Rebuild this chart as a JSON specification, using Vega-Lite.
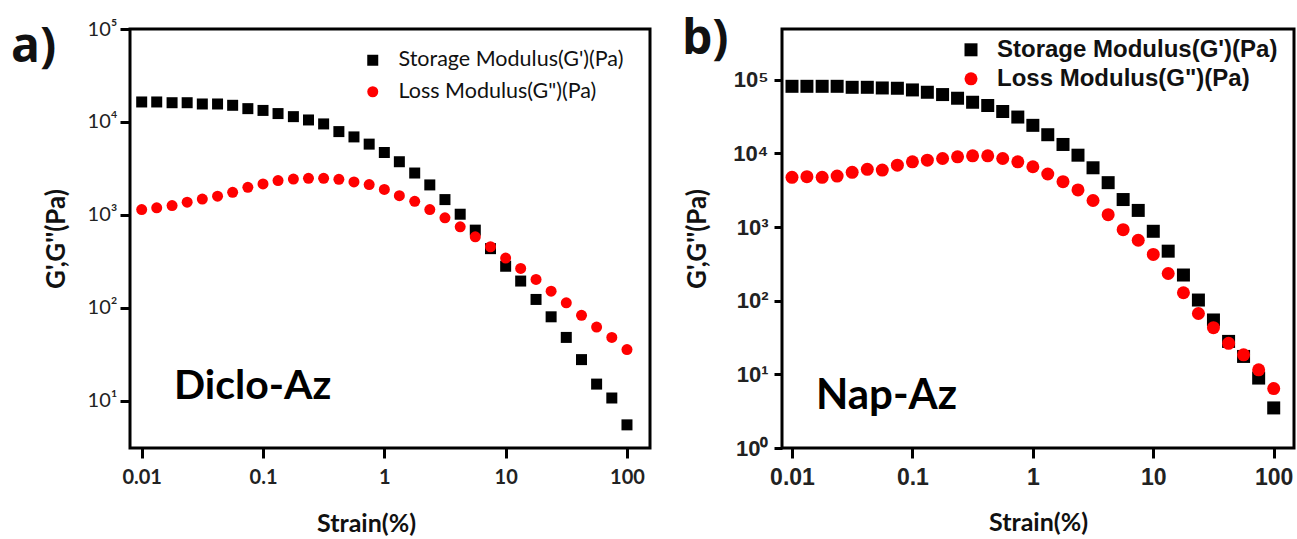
{
  "$schema": "https://vega.github.io/schema/vega-lite/v6.json",
  "padding": {"left": 9, "top": 14, "right": 4, "bottom": 4},
  "spacing": 28,
  "datasets": {
    "diclo": [
      {"strain": 0.01, "value": 16400, "series": "Storage Modulus(G')(Pa)"},
      {"strain": 0.0133, "value": 16400, "series": "Storage Modulus(G')(Pa)"},
      {"strain": 0.0178, "value": 16100, "series": "Storage Modulus(G')(Pa)"},
      {"strain": 0.0237, "value": 16100, "series": "Storage Modulus(G')(Pa)"},
      {"strain": 0.0316, "value": 15600, "series": "Storage Modulus(G')(Pa)"},
      {"strain": 0.0422, "value": 15600, "series": "Storage Modulus(G')(Pa)"},
      {"strain": 0.0562, "value": 15100, "series": "Storage Modulus(G')(Pa)"},
      {"strain": 0.075, "value": 13900, "series": "Storage Modulus(G')(Pa)"},
      {"strain": 0.1, "value": 13300, "series": "Storage Modulus(G')(Pa)"},
      {"strain": 0.133, "value": 12300, "series": "Storage Modulus(G')(Pa)"},
      {"strain": 0.178, "value": 11400, "series": "Storage Modulus(G')(Pa)"},
      {"strain": 0.237, "value": 10500, "series": "Storage Modulus(G')(Pa)"},
      {"strain": 0.316, "value": 9520, "series": "Storage Modulus(G')(Pa)"},
      {"strain": 0.422, "value": 7870, "series": "Storage Modulus(G')(Pa)"},
      {"strain": 0.562, "value": 6900, "series": "Storage Modulus(G')(Pa)"},
      {"strain": 0.75, "value": 5770, "series": "Storage Modulus(G')(Pa)"},
      {"strain": 1, "value": 4690, "series": "Storage Modulus(G')(Pa)"},
      {"strain": 1.33, "value": 3730, "series": "Storage Modulus(G')(Pa)"},
      {"strain": 1.78, "value": 2820, "series": "Storage Modulus(G')(Pa)"},
      {"strain": 2.37, "value": 2100, "series": "Storage Modulus(G')(Pa)"},
      {"strain": 3.16, "value": 1460, "series": "Storage Modulus(G')(Pa)"},
      {"strain": 4.22, "value": 1016, "series": "Storage Modulus(G')(Pa)"},
      {"strain": 5.62, "value": 685, "series": "Storage Modulus(G')(Pa)"},
      {"strain": 7.5, "value": 433, "series": "Storage Modulus(G')(Pa)"},
      {"strain": 10, "value": 280, "series": "Storage Modulus(G')(Pa)"},
      {"strain": 13.3, "value": 194, "series": "Storage Modulus(G')(Pa)"},
      {"strain": 17.8, "value": 123, "series": "Storage Modulus(G')(Pa)"},
      {"strain": 23.7, "value": 80, "series": "Storage Modulus(G')(Pa)"},
      {"strain": 31.6, "value": 48, "series": "Storage Modulus(G')(Pa)"},
      {"strain": 42.2, "value": 27.7, "series": "Storage Modulus(G')(Pa)"},
      {"strain": 56.2, "value": 15.1, "series": "Storage Modulus(G')(Pa)"},
      {"strain": 75, "value": 10.7, "series": "Storage Modulus(G')(Pa)"},
      {"strain": 100, "value": 5.5, "series": "Storage Modulus(G')(Pa)"},
      {"strain": 0.01, "value": 1140, "series": "Loss Modulus(G\")(Pa)"},
      {"strain": 0.0133, "value": 1190, "series": "Loss Modulus(G\")(Pa)"},
      {"strain": 0.0178, "value": 1260, "series": "Loss Modulus(G\")(Pa)"},
      {"strain": 0.0237, "value": 1370, "series": "Loss Modulus(G\")(Pa)"},
      {"strain": 0.0316, "value": 1480, "series": "Loss Modulus(G\")(Pa)"},
      {"strain": 0.0422, "value": 1590, "series": "Loss Modulus(G\")(Pa)"},
      {"strain": 0.0562, "value": 1750, "series": "Loss Modulus(G\")(Pa)"},
      {"strain": 0.075, "value": 1980, "series": "Loss Modulus(G\")(Pa)"},
      {"strain": 0.1, "value": 2150, "series": "Loss Modulus(G\")(Pa)"},
      {"strain": 0.133, "value": 2340, "series": "Loss Modulus(G\")(Pa)"},
      {"strain": 0.178, "value": 2430, "series": "Loss Modulus(G\")(Pa)"},
      {"strain": 0.237, "value": 2470, "series": "Loss Modulus(G\")(Pa)"},
      {"strain": 0.316, "value": 2470, "series": "Loss Modulus(G\")(Pa)"},
      {"strain": 0.422, "value": 2410, "series": "Loss Modulus(G\")(Pa)"},
      {"strain": 0.562, "value": 2260, "series": "Loss Modulus(G\")(Pa)"},
      {"strain": 0.75, "value": 2120, "series": "Loss Modulus(G\")(Pa)"},
      {"strain": 1, "value": 1880, "series": "Loss Modulus(G\")(Pa)"},
      {"strain": 1.33, "value": 1610, "series": "Loss Modulus(G\")(Pa)"},
      {"strain": 1.78, "value": 1400, "series": "Loss Modulus(G\")(Pa)"},
      {"strain": 2.37, "value": 1140, "series": "Loss Modulus(G\")(Pa)"},
      {"strain": 3.16, "value": 930, "series": "Loss Modulus(G\")(Pa)"},
      {"strain": 4.22, "value": 744, "series": "Loss Modulus(G\")(Pa)"},
      {"strain": 5.62, "value": 581, "series": "Loss Modulus(G\")(Pa)"},
      {"strain": 7.5, "value": 454, "series": "Loss Modulus(G\")(Pa)"},
      {"strain": 10, "value": 343, "series": "Loss Modulus(G\")(Pa)"},
      {"strain": 13.3, "value": 265, "series": "Loss Modulus(G\")(Pa)"},
      {"strain": 17.8, "value": 202, "series": "Loss Modulus(G\")(Pa)"},
      {"strain": 23.7, "value": 151, "series": "Loss Modulus(G\")(Pa)"},
      {"strain": 31.6, "value": 113, "series": "Loss Modulus(G\")(Pa)"},
      {"strain": 42.2, "value": 83, "series": "Loss Modulus(G\")(Pa)"},
      {"strain": 56.2, "value": 62, "series": "Loss Modulus(G\")(Pa)"},
      {"strain": 75, "value": 48, "series": "Loss Modulus(G\")(Pa)"},
      {"strain": 100, "value": 35.5, "series": "Loss Modulus(G\")(Pa)"}
    ],
    "nap": [
      {"strain": 0.01, "value": 81300, "series": "Storage Modulus(G')(Pa)"},
      {"strain": 0.0133, "value": 81300, "series": "Storage Modulus(G')(Pa)"},
      {"strain": 0.0178, "value": 81300, "series": "Storage Modulus(G')(Pa)"},
      {"strain": 0.0237, "value": 81300, "series": "Storage Modulus(G')(Pa)"},
      {"strain": 0.0316, "value": 78800, "series": "Storage Modulus(G')(Pa)"},
      {"strain": 0.0422, "value": 78800, "series": "Storage Modulus(G')(Pa)"},
      {"strain": 0.0562, "value": 77200, "series": "Storage Modulus(G')(Pa)"},
      {"strain": 0.075, "value": 76500, "series": "Storage Modulus(G')(Pa)"},
      {"strain": 0.1, "value": 72600, "series": "Storage Modulus(G')(Pa)"},
      {"strain": 0.133, "value": 67500, "series": "Storage Modulus(G')(Pa)"},
      {"strain": 0.178, "value": 62800, "series": "Storage Modulus(G')(Pa)"},
      {"strain": 0.237, "value": 56000, "series": "Storage Modulus(G')(Pa)"},
      {"strain": 0.316, "value": 49400, "series": "Storage Modulus(G')(Pa)"},
      {"strain": 0.422, "value": 44600, "series": "Storage Modulus(G')(Pa)"},
      {"strain": 0.562, "value": 37000, "series": "Storage Modulus(G')(Pa)"},
      {"strain": 0.75, "value": 31100, "series": "Storage Modulus(G')(Pa)"},
      {"strain": 1, "value": 24000, "series": "Storage Modulus(G')(Pa)"},
      {"strain": 1.33, "value": 17900, "series": "Storage Modulus(G')(Pa)"},
      {"strain": 1.78, "value": 13200, "series": "Storage Modulus(G')(Pa)"},
      {"strain": 2.37, "value": 9440, "series": "Storage Modulus(G')(Pa)"},
      {"strain": 3.16, "value": 6370, "series": "Storage Modulus(G')(Pa)"},
      {"strain": 4.22, "value": 4000, "series": "Storage Modulus(G')(Pa)"},
      {"strain": 5.62, "value": 2360, "series": "Storage Modulus(G')(Pa)"},
      {"strain": 7.5, "value": 1680, "series": "Storage Modulus(G')(Pa)"},
      {"strain": 10, "value": 875, "series": "Storage Modulus(G')(Pa)"},
      {"strain": 13.3, "value": 470, "series": "Storage Modulus(G')(Pa)"},
      {"strain": 17.8, "value": 223, "series": "Storage Modulus(G')(Pa)"},
      {"strain": 23.7, "value": 102, "series": "Storage Modulus(G')(Pa)"},
      {"strain": 31.6, "value": 54.7, "series": "Storage Modulus(G')(Pa)"},
      {"strain": 42.2, "value": 28, "series": "Storage Modulus(G')(Pa)"},
      {"strain": 56.2, "value": 17.5, "series": "Storage Modulus(G')(Pa)"},
      {"strain": 75, "value": 8.9, "series": "Storage Modulus(G')(Pa)"},
      {"strain": 100, "value": 3.5, "series": "Storage Modulus(G')(Pa)"},
      {"strain": 0.01, "value": 4720, "series": "Loss Modulus(G\")(Pa)"},
      {"strain": 0.0133, "value": 4820, "series": "Loss Modulus(G\")(Pa)"},
      {"strain": 0.0178, "value": 4720, "series": "Loss Modulus(G\")(Pa)"},
      {"strain": 0.0237, "value": 4920, "series": "Loss Modulus(G\")(Pa)"},
      {"strain": 0.0316, "value": 5520, "series": "Loss Modulus(G\")(Pa)"},
      {"strain": 0.0422, "value": 6060, "series": "Loss Modulus(G\")(Pa)"},
      {"strain": 0.0562, "value": 5930, "series": "Loss Modulus(G\")(Pa)"},
      {"strain": 0.075, "value": 6920, "series": "Loss Modulus(G\")(Pa)"},
      {"strain": 0.1, "value": 7680, "series": "Loss Modulus(G\")(Pa)"},
      {"strain": 0.133, "value": 8090, "series": "Loss Modulus(G\")(Pa)"},
      {"strain": 0.178, "value": 8510, "series": "Loss Modulus(G\")(Pa)"},
      {"strain": 0.237, "value": 8970, "series": "Loss Modulus(G\")(Pa)"},
      {"strain": 0.316, "value": 9250, "series": "Loss Modulus(G\")(Pa)"},
      {"strain": 0.422, "value": 9250, "series": "Loss Modulus(G\")(Pa)"},
      {"strain": 0.562, "value": 8510, "series": "Loss Modulus(G\")(Pa)"},
      {"strain": 0.75, "value": 7680, "series": "Loss Modulus(G\")(Pa)"},
      {"strain": 1, "value": 6580, "series": "Loss Modulus(G\")(Pa)"},
      {"strain": 1.33, "value": 5240, "series": "Loss Modulus(G\")(Pa)"},
      {"strain": 1.78, "value": 4130, "series": "Loss Modulus(G\")(Pa)"},
      {"strain": 2.37, "value": 3190, "series": "Loss Modulus(G\")(Pa)"},
      {"strain": 3.16, "value": 2290, "series": "Loss Modulus(G\")(Pa)"},
      {"strain": 4.22, "value": 1470, "series": "Loss Modulus(G\")(Pa)"},
      {"strain": 5.62, "value": 920, "series": "Loss Modulus(G\")(Pa)"},
      {"strain": 7.5, "value": 661, "series": "Loss Modulus(G\")(Pa)"},
      {"strain": 10, "value": 424, "series": "Loss Modulus(G\")(Pa)"},
      {"strain": 13.3, "value": 234, "series": "Loss Modulus(G\")(Pa)"},
      {"strain": 17.8, "value": 128, "series": "Loss Modulus(G\")(Pa)"},
      {"strain": 23.7, "value": 67, "series": "Loss Modulus(G\")(Pa)"},
      {"strain": 31.6, "value": 43, "series": "Loss Modulus(G\")(Pa)"},
      {"strain": 42.2, "value": 26.4, "series": "Loss Modulus(G\")(Pa)"},
      {"strain": 56.2, "value": 18.4, "series": "Loss Modulus(G\")(Pa)"},
      {"strain": 75, "value": 11.5, "series": "Loss Modulus(G\")(Pa)"},
      {"strain": 100, "value": 6.4, "series": "Loss Modulus(G\")(Pa)"}
    ]
  },
  "hconcat": [
    {
      "width": 520,
      "height": 419,
      "layer": [
        {
          "data": {"name": "diclo"},
          "mark": {"type": "point", "filled": true, "size": 121, "opacity": 1},
          "encoding": {
            "x": {"field": "strain", "type": "quantitative",
              "scale": {"type": "log", "domain": [0.00801, 154.8], "nice": false},
              "axis": {"values": [0.01, 0.1, 1, 10, 100], "format": "~g", "title": "Strain(%)", "titleX": 236,
                "domain": false, "grid": false, "tickSize": 10, "tickWidth": 3, "tickColor": "#000",
                "labelFont": "Lato", "labelFontSize": 20, "labelFontWeight": "bold", "labelColor": "#222", "labelPadding": 9, "labelFlush": false, "labelOverlap": false,
                "titleFont": "Lato", "titleFontSize": 25, "titleFontWeight": "bold", "titleColor": "#111", "titlePadding": 24}},
            "y": {"field": "value", "type": "quantitative",
              "scale": {"type": "log", "domain": [3.1, 100000], "nice": false},
              "axis": {"values": [10, 100, 1000, 10000, 100000],
                "labelExpr": "'10' + ['⁰','¹','²','³','⁴','⁵'][round(log(datum.value)/LN10)]",
                "title": "G',G''(Pa)", "domain": false, "grid": false, "tickSize": 10, "tickWidth": 3, "tickColor": "#000",
                "labelFont": "Lato", "labelFontSize": 20, "labelColor": "#222", "labelPadding": 3, "labelFlush": false, "labelOverlap": false,
                "titleFont": "Lato", "titleFontSize": 26, "titleFontWeight": "bold", "titleColor": "#111", "titlePadding": 18}},
            "shape": {"field": "series", "type": "nominal",
              "scale": {"domain": ["Storage Modulus(G')(Pa)", "Loss Modulus(G\")(Pa)"], "range": ["square", "circle"]},
              "legend": {"title": null, "orient": "none", "legendX": 232, "legendY": 20.5, "padding": 0, "labelFont": "Lato", "labelFontSize": 21.5, "labelColor": "#111", "symbolSize": 121, "rowPadding": 8.5, "labelOffset": 15, "symbolStrokeWidth": 0, "labelLimit": 400}},
            "color": {"field": "series", "type": "nominal",
              "scale": {"domain": ["Storage Modulus(G')(Pa)", "Loss Modulus(G\")(Pa)"], "range": ["#000000", "#ff0000"]},
              "legend": {"title": null, "orient": "none", "legendX": 232, "legendY": 20.5, "padding": 0, "labelFont": "Lato", "labelFontSize": 21.5, "labelColor": "#111", "symbolSize": 121, "rowPadding": 8.5, "labelOffset": 15, "symbolStrokeWidth": 0, "labelLimit": 400}}
          }
        },
        {
          "data": {"values": [{}]},
          "mark": {"type": "text", "font": "Lato", "fontSize": 41, "fontWeight": "bold", "align": "left", "baseline": "middle", "color": "#000"},
          "encoding": {"x": {"datum": 0.01845}, "y": {"datum": 14}, "text": {"value": "Diclo-Az"}}
        },
        {
          "data": {"values": [{}]},
          "mark": {"type": "text", "font": "Open Sans", "fontSize": 48, "fontWeight": "bold", "align": "left", "baseline": "alphabetic", "color": "#111"},
          "encoding": {"x": {"datum": 0.000837}, "y": {"datum": 44150}, "text": {"value": "a)"}}
        }
      ]
    },
    {
      "width": 512,
      "height": 419,
      "layer": [
        {
          "data": {"name": "nap"},
          "mark": {"type": "point", "filled": true, "size": 169, "opacity": 1},
          "encoding": {
            "x": {"field": "strain", "type": "quantitative",
              "scale": {"type": "log", "domain": [0.00826, 147.4], "nice": false},
              "axis": {"values": [0.01, 0.1, 1, 10, 100], "format": "~g", "title": "Strain(%)",
                "domain": false, "grid": false, "tickSize": 10, "tickWidth": 3, "tickColor": "#000",
                "labelFont": "Liberation Sans", "labelFontSize": 23, "labelFontWeight": "bold", "labelColor": "#222", "labelPadding": 8, "labelFlush": false, "labelOverlap": false,
                "titleFont": "Lato", "titleFontSize": 25, "titleFontWeight": "bold", "titleColor": "#111", "titlePadding": 21}},
            "y": {"field": "value", "type": "quantitative",
              "scale": {"type": "log", "domain": [1, 487600], "nice": false},
              "axis": {"values": [1, 10, 100, 1000, 10000, 100000],
                "labelExpr": "'10' + ['⁰','¹','²','³','⁴','⁵'][round(log(datum.value)/LN10)]",
                "title": "G',G''(Pa)", "domain": false, "grid": false, "tickSize": 8, "tickWidth": 3, "tickColor": "#000",
                "labelFont": "Liberation Sans", "labelFontSize": 22, "labelFontWeight": "bold", "labelColor": "#222", "labelPadding": 6, "labelFlush": false, "labelOverlap": false,
                "titleFont": "Lato", "titleFontSize": 26, "titleFontWeight": "bold", "titleColor": "#111", "titlePadding": 22}},
            "shape": {"field": "series", "type": "nominal",
              "scale": {"domain": ["Storage Modulus(G')(Pa)", "Loss Modulus(G\")(Pa)"], "range": ["square", "circle"]},
              "legend": {"title": null, "orient": "none", "legendX": 177, "legendY": 8.8, "padding": 0, "labelFont": "Liberation Sans", "labelFontSize": 24, "labelFontWeight": "bold", "labelColor": "#111", "symbolSize": 169, "rowPadding": 5, "labelOffset": 14, "symbolStrokeWidth": 0, "labelLimit": 400}},
            "color": {"field": "series", "type": "nominal",
              "scale": {"domain": ["Storage Modulus(G')(Pa)", "Loss Modulus(G\")(Pa)"], "range": ["#000000", "#ff0000"]},
              "legend": {"title": null, "orient": "none", "legendX": 177, "legendY": 8.8, "padding": 0, "labelFont": "Liberation Sans", "labelFontSize": 24, "labelFontWeight": "bold", "labelColor": "#111", "symbolSize": 169, "rowPadding": 5, "labelOffset": 14, "symbolStrokeWidth": 0, "labelLimit": 400}}
          }
        },
        {
          "data": {"values": [{}]},
          "mark": {"type": "text", "font": "Lato", "fontSize": 42, "fontWeight": "bold", "align": "left", "baseline": "middle", "color": "#000"},
          "encoding": {"x": {"datum": 0.0158}, "y": {"datum": 5.08}, "text": {"value": "Nap-Az"}}
        },
        {
          "data": {"values": [{}]},
          "mark": {"type": "text", "font": "Open Sans", "fontSize": 48, "fontWeight": "bold", "align": "left", "baseline": "alphabetic", "color": "#111"},
          "encoding": {"x": {"datum": 0.00122}, "y": {"datum": 223300}, "text": {"value": "b)"}}
        }
      ]
    }
  ],
  "resolve": {
    "scale": {"x": "independent", "y": "independent", "color": "independent", "shape": "independent"},
    "legend": {"color": "independent", "shape": "independent"}
  },
  "config": {
    "view": {"stroke": "#000", "strokeWidth": 3},
    "background": "#ffffff"
  }
}
